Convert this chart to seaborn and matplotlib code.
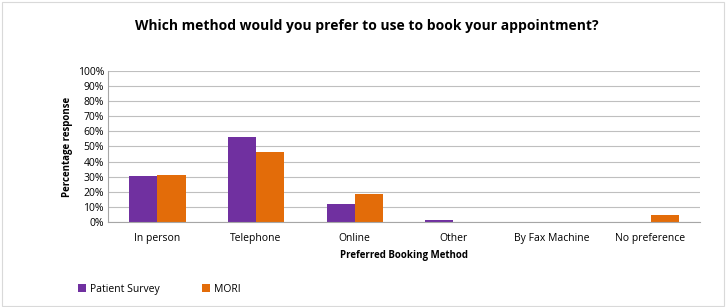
import numpy as np
import pandas as pd
import matplotlib
matplotlib.use("Agg")
import matplotlib.pyplot as plt
from matplotlib.patches import Rectangle, Patch
from matplotlib.ticker import PercentFormatter, FixedLocator
import seaborn as sns

# === Data ===
methods = ["In person", "Telephone", "Online", "Other", "By Fax Machine", "No preference"]
patient_survey = [30.5, 56.0, 12.0, 1.2, 0.0, 0.0]
mori = [31.0, 46.0, 18.8, 0.0, 0.0, 4.6]
series = ["Patient Survey", "MORI"]
colors = ["#7030A0", "#E36C09"]

df = pd.DataFrame({
    "method": methods * 2,
    "value": patient_survey + mori,
    "source": [series[0]] * len(methods) + [series[1]] * len(methods),
})

sns.set_theme(style="white")
plt.rcParams["font.family"] = ["Open Sans", "DejaVu Sans"]
plt.rcParams["text.color"] = "black"
plt.rcParams["axes.labelcolor"] = "black"

fig = plt.figure(figsize=(7.26, 3.07), dpi=100)
ax = fig.add_axes([0.149, 0.277, 0.815, 0.492])

sns.barplot(data=df, x="method", y="value", hue="source", palette=colors,
            width=0.57, gap=0, saturation=1, ax=ax, legend=False, errorbar=None,
            linewidth=0)

ax.set_ylim(0, 100)
ax.set_xlim(-0.5, len(methods) - 0.5)
ax.yaxis.set_major_locator(FixedLocator(np.arange(0, 101, 10)))
ax.yaxis.set_major_formatter(PercentFormatter(decimals=0))
ax.grid(axis="y", color="#BFBFBF", linewidth=0.8)
ax.set_axisbelow(True)

for s in ["top", "right"]:
    ax.spines[s].set_visible(False)
for s in ["left", "bottom"]:
    ax.spines[s].set_color("#A6A6A6")
    ax.spines[s].set_linewidth(0.8)

ax.tick_params(axis="y", labelsize=7.5, length=0, pad=3, colors="black")
ax.tick_params(axis="x", which="major", labelsize=7.5, length=0, pad=8, colors="black")
ax.set_xticks(np.arange(-0.5, len(methods), 1), minor=True)
ax.tick_params(axis="x", which="minor", length=4, color="#A6A6A6", width=0.8)

ax.set_xlabel("Preferred Booking Method", fontsize=7, fontweight="bold", labelpad=4)
ax.set_ylabel("Percentage response", fontsize=7, fontweight="bold", labelpad=3)

fig.text(0.505, 0.915, "Which method would you prefer to use to book your appointment?",
         ha="center", va="center", fontsize=10, fontweight="bold", color="black")

handles = [Patch(facecolor=c, edgecolor="none") for c in colors]
fig.legend(handles, series, loc="center left", bbox_to_anchor=(0.095, 0.058),
           ncol=2, frameon=False, fontsize=7.5, handlelength=0.7, handleheight=0.7,
           handletextpad=0.4, columnspacing=4.1)

fig.patches.append(Rectangle((0.003, 0.004), 0.994, 0.99, transform=fig.transFigure,
                             fill=False, edgecolor="#D9D9D9", linewidth=0.8))

fig.savefig("out.png", dpi=100, facecolor="white")
